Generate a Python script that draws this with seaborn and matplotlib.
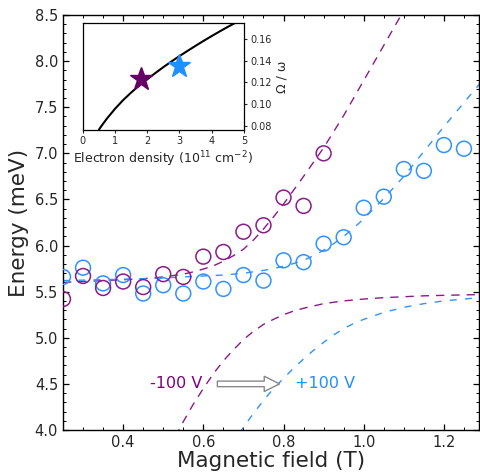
import numpy as np
import pandas as pd
import matplotlib
matplotlib.use("Agg")
import matplotlib.pyplot as plt
import seaborn as sns
from matplotlib.ticker import MultipleLocator

# ---- data ----
field_neg = [0.25, 0.30, 0.35, 0.40, 0.45, 0.50, 0.55, 0.60, 0.65, 0.70, 0.75, 0.80, 0.85, 0.90]
energy_neg = [5.42, 5.67, 5.54, 5.61, 5.55, 5.69, 5.66, 5.88, 5.93, 6.15, 6.22, 6.52, 6.43, 7.00]

field_pos = [0.25, 0.30, 0.35, 0.40, 0.45, 0.50, 0.55, 0.60, 0.65, 0.70, 0.75, 0.80, 0.85,
             0.90, 0.95, 1.00, 1.05, 1.10, 1.15, 1.20, 1.25]
energy_pos = [5.66, 5.76, 5.59, 5.68, 5.48, 5.57, 5.48, 5.61, 5.53, 5.68, 5.62, 5.84, 5.82,
              6.02, 6.09, 6.41, 6.53, 6.83, 6.81, 7.09, 7.05]

# model curves (dashed)
up_neg_x = [0.25, 0.30, 0.35, 0.40, 0.45, 0.50, 0.55, 0.575, 0.60, 0.625, 0.65, 0.675, 0.70,
            0.725, 0.75, 0.775, 0.80, 0.85, 0.90, 0.95, 1.00, 1.05, 1.10, 1.12]
up_neg_y = [5.60, 5.61, 5.62, 5.63, 5.64, 5.66, 5.69, 5.715, 5.745, 5.78, 5.83, 5.89, 5.96,
            6.06, 6.18, 6.31, 6.45, 6.75, 7.06, 7.41, 7.79, 8.17, 8.55, 8.70]
lo_neg_x = [0.53, 0.55, 0.575, 0.60, 0.625, 0.65, 0.675, 0.70, 0.725, 0.75, 0.775, 0.80, 0.825,
            0.85, 0.90, 0.95, 1.00, 1.05, 1.10, 1.15, 1.20, 1.25, 1.30]
lo_neg_y = [3.93, 4.09, 4.28, 4.45, 4.61, 4.75, 4.87, 4.98, 5.07, 5.145, 5.20, 5.25, 5.29,
            5.32, 5.37, 5.40, 5.42, 5.435, 5.445, 5.455, 5.46, 5.465, 5.47]
up_pos_x = [0.25, 0.30, 0.35, 0.40, 0.45, 0.50, 0.55, 0.60, 0.65, 0.70, 0.75, 0.80, 0.825, 0.85,
            0.875, 0.90, 0.925, 0.95, 0.975, 1.00, 1.025, 1.05, 1.10, 1.15, 1.20, 1.25, 1.30]
up_pos_y = [5.62, 5.625, 5.63, 5.635, 5.64, 5.65, 5.66, 5.67, 5.68, 5.70, 5.73, 5.775, 5.805, 5.84,
            5.89, 5.95, 6.02, 6.10, 6.19, 6.29, 6.40, 6.51, 6.75, 7.02, 7.29, 7.55, 7.81]
lo_pos_x = [0.69, 0.70, 0.725, 0.75, 0.775, 0.80, 0.825, 0.85, 0.875, 0.90, 0.925, 0.95, 0.975,
            1.00, 1.05, 1.10, 1.15, 1.20, 1.25, 1.30]
lo_pos_y = [3.96, 4.03, 4.18, 4.32, 4.45, 4.56, 4.67, 4.77, 4.865, 4.95, 5.03, 5.10, 5.155,
            5.20, 5.275, 5.33, 5.37, 5.40, 5.42, 5.44]

# inset
density_curve_x = [0.5, 0.6, 0.75, 1.0, 1.25, 1.5, 1.75, 2.0, 2.25, 2.5, 2.75, 3.0, 3.25, 3.5,
                   3.75, 4.0, 4.25, 4.5, 4.8]
ratio_curve_y = [0.0762, 0.0805, 0.0865, 0.0955, 0.1035, 0.1105, 0.117, 0.1228, 0.1285, 0.134,
                 0.1392, 0.1442, 0.149, 0.1537, 0.1583, 0.1627, 0.167, 0.1712, 0.176]
star_density = [1.80, 2.98]
star_ratio = [0.123, 0.135]

labels = ["-100 V", "+100 V"]

PURPLE = "#8b1a8b"
PURPLE_TXT = "#800080"
PURPLE_STAR = "#660066"
BLUE = "#2f93ff"
BLUE_STAR = "#1e90ff"

sns.set_style("white")
plt.rcParams["font.family"] = ["DejaVu Sans"]

fig = plt.figure(figsize=(4.8, 4.75), dpi=100)
ax = fig.add_axes([63 / 480, 45 / 475, (479 - 63) / 480, (430 - 15) / 475])

# dashed model lines
sns.lineplot(x=up_neg_x, y=up_neg_y, ax=ax, color=PURPLE, lw=1.0, linestyle=(0, (6, 5)), sort=False, estimator=None)
sns.lineplot(x=lo_neg_x, y=lo_neg_y, ax=ax, color=PURPLE, lw=1.0, linestyle=(0, (6, 5)), sort=False, estimator=None)
sns.lineplot(x=up_pos_x, y=up_pos_y, ax=ax, color=BLUE, lw=1.0, linestyle=(0, (5, 6)), sort=False, estimator=None)
sns.lineplot(x=lo_pos_x, y=lo_pos_y, ax=ax, color=BLUE, lw=1.0, linestyle=(0, (5, 6)), sort=False, estimator=None)

# data circles
sns.scatterplot(x=field_pos, y=energy_pos, ax=ax, s=115, facecolor="none", edgecolor=BLUE, linewidth=1.1, zorder=3)
sns.scatterplot(x=field_neg, y=energy_neg, ax=ax, s=115, facecolor="none", edgecolor=PURPLE, linewidth=1.1, zorder=3)

ax.set_xlim(0.25, 1.2875)
ax.set_ylim(4.0, 8.5)
ax.xaxis.set_major_locator(MultipleLocator(0.2))
ax.xaxis.set_minor_locator(MultipleLocator(0.05))
ax.yaxis.set_major_locator(MultipleLocator(0.5))
ax.yaxis.set_minor_locator(MultipleLocator(0.1))
ax.tick_params(which="both", direction="in", top=True, right=True, bottom=True, left=True,
               color="black", labelsize=10.5)
ax.tick_params(which="major", length=4, width=0.9)
ax.tick_params(which="minor", length=2.2, width=0.7)
for sp in ax.spines.values():
    sp.set_color("black")
    sp.set_linewidth(1.0)
ax.set_xlabel("Magnetic field (T)", fontsize=15.5, labelpad=1)
ax.set_ylabel("Energy (meV)", fontsize=15.5, labelpad=4)

# annotations
ax.text(0.597, 4.50, labels[0], color=PURPLE_TXT, fontsize=11.5, ha="right", va="center")
ax.text(0.828, 4.50, labels[1], color=BLUE_STAR, fontsize=11.5, ha="left", va="center")
ax.annotate("", xy=(0.79, 4.50), xytext=(0.635, 4.50),
            arrowprops=dict(arrowstyle="simple,head_length=1.1,head_width=1.1,tail_width=0.4",
                            fc="white", ec="#888888", lw=1.0, shrinkA=0, shrinkB=0))

# inset
axin = fig.add_axes([82.7 / 480, (475 - 130) / 475, (244 - 82.7) / 480, (130 - 22.7) / 475])
sns.lineplot(x=density_curve_x, y=ratio_curve_y, ax=axin, color="black", lw=1.5, sort=False, estimator=None)
axin.plot(star_density[0], star_ratio[0], marker="*", ms=17, color=PURPLE_STAR, ls="none", zorder=3)
axin.plot(star_density[1], star_ratio[1], marker="*", ms=17, color=BLUE_STAR, ls="none", zorder=3)
axin.set_xlim(0, 5)
axin.set_ylim(0.076, 0.175)
axin.xaxis.set_major_locator(MultipleLocator(1))
axin.yaxis.set_major_locator(MultipleLocator(0.02))
axin.yaxis.tick_right()
axin.yaxis.set_label_position("right")
axin.tick_params(direction="out", length=2.5, width=0.8, labelsize=7, pad=2,
                 left=False, right=True, bottom=True)
for sp in axin.spines.values():
    sp.set_color("black")
    sp.set_linewidth(0.9)
axin.set_xlabel("Electron density (10$^{11}$ cm$^{-2}$)", fontsize=9, labelpad=2)
axin.set_ylabel("Ω / ω", fontsize=9, labelpad=3)

fig.savefig("out.png", dpi=100)
